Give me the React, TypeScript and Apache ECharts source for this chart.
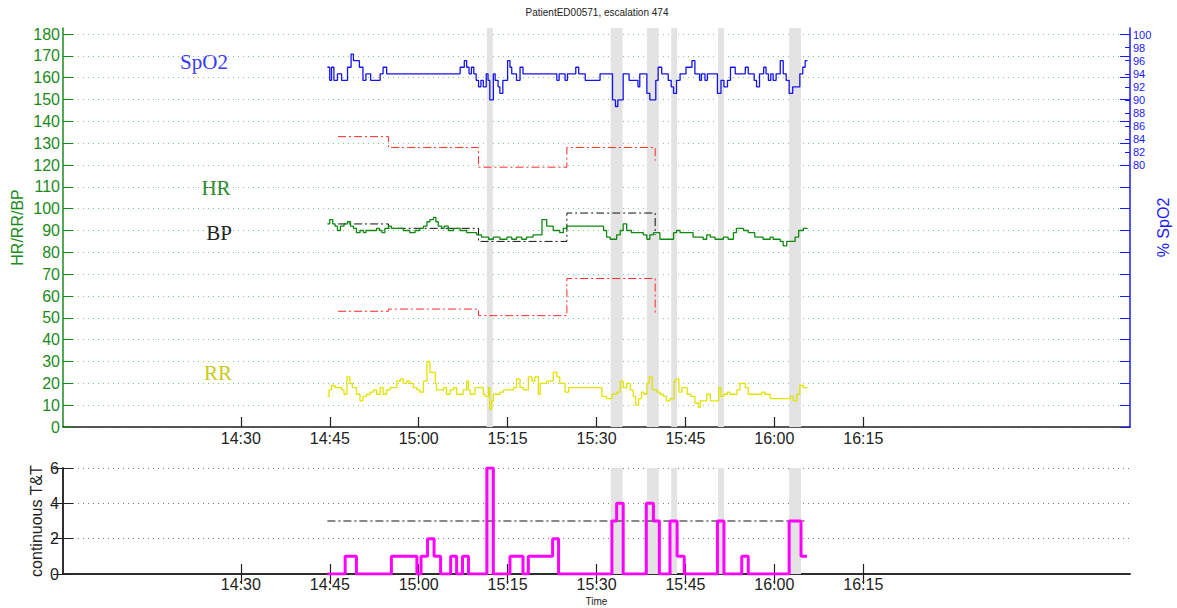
import React, { useEffect, useRef } from 'react';
import * as echarts from 'echarts';

// time values are minutes after 14:00
const timeTicks = [30, 45, 60, 75, 90, 105, 120, 135];
const hrTicks = [0, 10, 20, 30, 40, 50, 60, 70, 80, 90, 100, 110, 120, 130, 140, 150, 160, 170, 180];
const spo2Ticks = [80, 82, 84, 86, 88, 90, 92, 94, 96, 98, 100];

const spo2Time = [44.6, 45.0, 45.3, 45.7, 46.3, 47.0, 48.0, 48.6, 49.0, 50.0, 50.6, 51.1, 51.9, 53.5, 54.0, 54.6, 67.0, 67.7, 68.1, 68.5, 68.9, 69.3, 69.7, 70.1, 70.5, 70.9, 71.4, 71.7, 72.0, 72.6, 72.9, 73.4, 73.7, 74.2, 75.0, 75.4, 75.7, 76.5, 77.1, 77.6, 83.3, 83.7, 84.7, 85.1, 86.5, 87.0, 88.1, 90.6, 92.7, 93.2, 93.6, 94.5, 95.5, 97.0, 97.3, 98.5, 99.0, 100.0, 100.4, 101.0, 102.1, 102.6, 103.0, 103.5, 104.1, 105.1, 106.1, 106.6, 107.4, 107.7, 108.3, 108.7, 110.4, 111.0, 111.5, 112.1, 112.6, 113.4, 115.1, 115.6, 116.6, 117.0, 117.5, 118.2, 118.6, 119.0, 119.4, 119.8, 120.3, 121.0, 121.5, 122.0, 122.5, 123.1, 124.3, 124.8, 125.2, 125.6];
const spo2Val = [95, 93, 95, 93, 94, 93, 95, 97, 96, 95, 93, 94, 93, 94, 95, 94, 95, 96, 95, 94, 95, 94, 93, 92, 93, 92, 94, 93, 90, 94, 93, 92, 91, 93, 96, 95, 94, 93, 95, 94, 93, 94, 93, 94, 95, 94, 93, 94, 90, 89, 90, 94, 93, 92, 94, 91, 90, 93, 95, 94, 93, 92, 91, 93, 94, 95, 96, 94, 93, 94, 93, 94, 91, 93, 92, 93, 95, 94, 95, 94, 93, 92, 94, 95, 94, 93, 94, 93, 94, 96, 94, 93, 91, 92, 94, 95, 96, 96];

const hrTime = [44.6, 45.0, 45.5, 45.9, 46.3, 46.8, 47.4, 48.0, 48.5, 49.0, 49.5, 50.1, 50.7, 51.1, 52.9, 53.4, 53.8, 54.3, 54.9, 55.4, 57.4, 58.5, 59.4, 60.2, 60.8, 61.4, 61.9, 62.5, 62.9, 63.3, 63.9, 64.3, 65.0, 65.9, 67.0, 68.1, 69.8, 70.6, 71.8, 72.6, 73.7, 74.9, 75.7, 76.5, 77.4, 78.2, 79.3, 80.8, 81.6, 82.7, 83.8, 84.4, 85.0, 91.2, 91.7, 92.3, 93.4, 94.0, 94.5, 95.1, 95.9, 97.9, 98.5, 99.0, 99.6, 100.7, 103.0, 103.5, 104.1, 105.2, 106.3, 108.0, 108.6, 109.2, 110.0, 111.4, 112.2, 113.1, 113.6, 114.8, 115.6, 116.7, 118.1, 119.3, 119.8, 121.0, 121.5, 122.1, 123.5, 124.1, 124.9, 125.6];
const hrVal = [93, 95, 93, 92, 90, 92, 93, 94, 92, 91, 89, 90, 89, 90, 91, 90, 89, 91, 92, 91, 90, 89, 90, 91, 92, 94, 95, 96, 94, 92, 91, 92, 90, 91, 90, 89, 88, 87, 86, 87, 86, 87, 86, 87, 86, 87, 88, 95, 92, 90, 89, 91, 92, 90, 87, 86, 88, 90, 93, 90, 89, 88, 86, 88, 89, 86, 89, 90, 89, 89, 87, 86, 88, 87, 86, 87, 86, 89, 91, 90, 89, 87, 86, 87, 86, 85, 83, 85, 87, 90, 91, 91];

const rrTime = [44.6, 44.9, 45.3, 45.9, 47.0, 47.4, 47.9, 48.4, 48.8, 49.5, 50.1, 50.6, 51.2, 51.8, 52.4, 52.9, 53.5, 54.0, 54.6, 55.2, 56.3, 56.9, 57.4, 58.0, 58.5, 59.1, 59.7, 60.2, 60.8, 61.4, 61.9, 62.8, 63.0, 64.2, 64.7, 65.3, 65.9, 66.4, 67.5, 68.1, 68.4, 68.7, 69.5, 70.9, 71.2, 71.8, 72.0, 72.3, 72.6, 73.7, 74.3, 76.0, 76.5, 77.1, 77.7, 78.5, 79.1, 79.6, 80.2, 80.5, 81.6, 82.7, 83.3, 83.8, 84.7, 85.3, 90.9, 91.7, 92.6, 93.4, 94.0, 94.5, 95.1, 95.7, 96.2, 96.6, 97.1, 97.6, 98.0, 98.5, 98.9, 99.4, 100.2, 100.7, 101.3, 101.8, 102.4, 103.1, 103.4, 103.9, 104.4, 105.3, 105.9, 106.6, 107.2, 107.5, 108.6, 109.2, 110.6, 111.0, 111.5, 112.1, 112.5, 113.7, 114.2, 115.1, 115.6, 117.9, 118.4, 119.3, 122.7, 123.2, 123.8, 124.3, 124.9, 125.6];
const rrVal = [14, 17, 19, 18, 17, 15, 23, 20, 18, 15, 12, 14, 15, 16, 17, 15, 18, 15, 17, 18, 21, 22, 20, 21, 20, 18, 17, 16, 21, 30, 25, 20, 17, 18, 15, 17, 18, 15, 17, 21, 17, 15, 18, 15, 14, 18, 8, 12, 15, 16, 17, 18, 22, 18, 17, 23, 21, 23, 15, 20, 21, 25, 23, 20, 16, 18, 14, 13, 15, 16, 21, 18, 20, 17, 14, 10, 13, 16, 15, 20, 23, 17, 16, 15, 14, 12, 13, 21, 22, 16, 18, 15, 14, 11, 9, 12, 15, 12, 18, 14, 15, 16, 15, 17, 20, 18, 15, 16, 15, 13, 14, 12, 15, 19, 18, 18];

const bpTime = [46.4, 54.9, 70.1, 85.0, 99.9];
const bpSys = [133, 128, 119, 128, 122];
const bpDia = [53, 54, 51, 68, 52];
const bpMean = [93, 91, 85, 98, 88];

const ttTime = [44.6, 47.6, 49.5, 55.4, 59.7, 60.4, 61.5, 62.6, 63.7, 65.4, 66.4, 67.4, 68.4, 71.5, 72.6, 75.4, 77.6, 78.5, 82.6, 83.6, 92.6, 93.4, 94.5, 98.4, 99.6, 100.6, 102.4, 103.6, 104.8, 110.4, 111.5, 114.5, 115.6, 122.5, 124.5, 125.5];
const ttVal = [0, 1, 0, 1, 0, 1, 2, 1, 0, 1, 0, 1, 0, 6, 0, 1, 0, 1, 2, 0, 3, 4, 0, 4, 3, 0, 3, 1, 0, 3, 0, 1, 0, 3, 1, 1];
const ttThresholdTime = [44.6, 125.5];
const ttThreshold = [3, 3];

const escalationStart = [71.5, 92.4, 98.5, 102.6, 110.5, 122.5];
const escalationEnd = [72.5, 94.4, 100.5, 103.6, 111.5, 124.5];

const zip = (t: number[], v: number[]) => t.map((x, i) => [x, v[i]]);
const fmtTime = (m: number) => {
  const h = 14 + Math.floor(m / 60);
  const mm = Math.round(m % 60);
  return `${h}:${mm < 10 ? '0' + mm : mm}`;
};

const FONT = 'Liberation Sans, Arial, Helvetica, sans-serif';
const SERIF = 'Liberation Serif, Times New Roman, serif';
const GREEN = '#1b8a1b';
const BLUE = '#1a1aff';
const DARK = '#222222';

export default function App() {
  const ref = useRef<HTMLDivElement>(null);
  useEffect(() => {
    if (!ref.current) return;
    const chart = echarts.init(ref.current, null, { renderer: 'svg' });
    const bands = escalationStart.map((s, i) => [{ xAxis: s }, { xAxis: escalationEnd[i] }]);
    const lineBase = { type: 'line', showSymbol: false, symbol: 'none', step: 'end', silent: true };
    const label = (text: string, x: number, y: number, fill: string) => ({
      type: 'text', x, y,
      style: { text, fontFamily: SERIF, fontSize: 21, fill, align: 'center', verticalAlign: 'middle' },
    });
    const option: any = {
      animation: false,
      textStyle: { fontFamily: FONT },
      grid: [
        { left: 63, top: 28, width: 1067, height: 399, outerBoundsMode: 'none', containLabel: false },
        { left: 63, top: 468, width: 1067, height: 106, outerBoundsMode: 'none', containLabel: false },
      ],
      xAxis: [
        {
          gridIndex: 0, type: 'value', min: 0, max: 180, interval: 15, position: 'bottom',
          axisLine: { show: true, lineStyle: { color: DARK, width: 1.5 } },
          axisTick: { show: true, inside: true, length: 10, customValues: timeTicks, lineStyle: { color: DARK, width: 1.2 } },
          axisLabel: { customValues: timeTicks, formatter: fmtTime, fontSize: 16, color: DARK, margin: 3, fontFamily: FONT },
          splitLine: { show: false },
        },
        {
          gridIndex: 1, type: 'value', min: 0, max: 180, interval: 15, position: 'bottom',
          name: 'Time', nameLocation: 'middle', nameGap: 22, nameMoveOverlap: false,
          nameTextStyle: { fontSize: 10, color: DARK, fontFamily: FONT },
          axisLine: { show: true, lineStyle: { color: DARK, width: 1.5 } },
          axisTick: { show: true, inside: true, length: 10, customValues: timeTicks, lineStyle: { color: DARK, width: 1.2 } },
          axisLabel: { customValues: timeTicks, formatter: fmtTime, fontSize: 16, color: DARK, margin: 2, fontFamily: FONT },
          splitLine: { show: false },
        },
        {
          gridIndex: 1, type: 'value', min: 0, max: 180, interval: 15, position: 'top',
          axisLine: { show: true, lineStyle: { color: DARK, width: 1.5 } },
          axisTick: { show: true, inside: true, length: 10, customValues: timeTicks, lineStyle: { color: DARK, width: 1.2 } },
          axisLabel: { show: false },
          splitLine: { show: false },
        },
      ],
      yAxis: [
        {
          gridIndex: 0, type: 'value', min: 0, max: 182.75, interval: 10, position: 'left',
          name: 'HR/RR/BP', nameLocation: 'middle', nameGap: 38, nameRotate: 90, nameMoveOverlap: false,
          nameTextStyle: { color: GREEN, fontSize: 16, fontFamily: FONT },
          axisLine: { show: true, lineStyle: { color: GREEN, width: 1.5 } },
          axisTick: { show: true, inside: true, length: 10, customValues: hrTicks, lineStyle: { color: GREEN } },
          axisLabel: { customValues: hrTicks, color: GREEN, fontSize: 16, margin: 3, fontFamily: FONT },
          splitLine: { show: true, lineStyle: { color: '#88c488', width: 1, type: [1, 4] } },
        },
        {
          gridIndex: 0, type: 'value', min: 40, max: 101, interval: 2, position: 'right',
          name: '% SpO2', nameLocation: 'middle', nameGap: 25, nameRotate: 90, nameMoveOverlap: false,
          nameTextStyle: { color: BLUE, fontSize: 16, fontFamily: FONT },
          axisLine: { show: true, lineStyle: { color: BLUE, width: 1.5 } },
          axisTick: { show: true, inside: true, length: 5, customValues: spo2Ticks, lineStyle: { color: BLUE } },
          axisLabel: { customValues: spo2Ticks, color: BLUE, fontSize: 11, margin: 3, fontFamily: FONT },
          splitLine: { show: false },
        },
        {
          gridIndex: 0, type: 'value', min: 0, max: 182.75, interval: 10, position: 'right',
          axisLine: { show: false },
          axisTick: { show: true, inside: true, length: 10, customValues: hrTicks, lineStyle: { color: BLUE } },
          axisLabel: { show: false },
          splitLine: { show: false },
        },
        {
          gridIndex: 1, type: 'value', min: 0, max: 6, interval: 2, position: 'left',
          name: 'continuous T&T', nameLocation: 'middle', nameGap: 19, nameRotate: 90, nameMoveOverlap: false,
          nameTextStyle: { color: DARK, fontSize: 16, fontFamily: FONT },
          axisLine: { show: true, lineStyle: { color: DARK, width: 1.5 } },
          axisTick: { show: true, inside: true, length: 10, lineStyle: { color: DARK } },
          axisLabel: { color: DARK, fontSize: 16, margin: 4, fontFamily: FONT },
          splitLine: { show: true, lineStyle: { color: '#777', width: 1, type: [1, 4] } },
        },
        {
          gridIndex: 1, type: 'value', min: 0, max: 6, interval: 2, position: 'right',
          axisLine: { show: true, lineStyle: { color: DARK, width: 1.5 } },
          axisTick: { show: true, inside: true, length: 10, lineStyle: { color: DARK } },
          axisLabel: { show: false },
          splitLine: { show: false },
        },
      ],
      graphic: [
        { type: 'text', x: 597, y: 12, style: { text: 'PatientED00571, escalation 474', fontFamily: FONT, fontSize: 10, fill: DARK, align: 'center', verticalAlign: 'middle' } },
        label('SpO2', 204, 62, '#3a3aff'),
        label('HR', 216, 188, '#2a8a2a'),
        label('BP', 219, 233, '#222'),
        label('RR', 218, 373, '#c9c91e'),
      ],
      series: [
        {
          type: 'line', xAxisIndex: 0, yAxisIndex: 0, data: [], silent: true, z: 1,
          markArea: { silent: true, itemStyle: { color: '#e3e3e3' }, data: bands },
        },
        {
          type: 'line', xAxisIndex: 1, yAxisIndex: 3, data: [], silent: true, z: 1,
          markArea: { silent: true, itemStyle: { color: '#e3e3e3' }, data: bands },
        },
        { ...lineBase, name: 'SysBP', xAxisIndex: 0, yAxisIndex: 0, data: zip(bpTime, bpSys), lineStyle: { color: '#ff2a2a', width: 1, type: [8, 3, 2, 3] }, z: 3 },
        { ...lineBase, name: 'DiaBP', xAxisIndex: 0, yAxisIndex: 0, data: zip(bpTime, bpDia), lineStyle: { color: '#ff2a2a', width: 1, type: [8, 3, 2, 3] }, z: 3 },
        { ...lineBase, name: 'MeanBP', xAxisIndex: 0, yAxisIndex: 0, data: zip(bpTime, bpMean), lineStyle: { color: '#111', width: 1, type: [8, 3, 2, 3] }, z: 3 },
        { ...lineBase, name: 'RR', xAxisIndex: 0, yAxisIndex: 0, data: zip(rrTime, rrVal), lineStyle: { color: '#e2e200', width: 1.3 }, z: 4 },
        { ...lineBase, name: 'HR', xAxisIndex: 0, yAxisIndex: 0, data: zip(hrTime, hrVal), lineStyle: { color: '#118811', width: 1.3 }, z: 4 },
        { ...lineBase, name: 'SpO2', xAxisIndex: 0, yAxisIndex: 1, data: zip(spo2Time, spo2Val), lineStyle: { color: '#1414ee', width: 1.3 }, z: 4 },
        { ...lineBase, name: 'Threshold', xAxisIndex: 1, yAxisIndex: 3, data: zip(ttThresholdTime, ttThreshold), lineStyle: { color: '#111', width: 1.2, type: [8, 3, 2, 3] }, z: 3 },
        { ...lineBase, name: 'T&T', xAxisIndex: 1, yAxisIndex: 3, data: zip(ttTime, ttVal), lineStyle: { color: '#ff00ff', width: 3 }, z: 4 },
      ],
    };
    chart.setOption(option);
    return () => chart.dispose();
  }, []);
  return <div ref={ref} style={{ position: 'absolute', left: 0, top: 0, width: 1177, height: 608, background: '#fff' }} />;
}
